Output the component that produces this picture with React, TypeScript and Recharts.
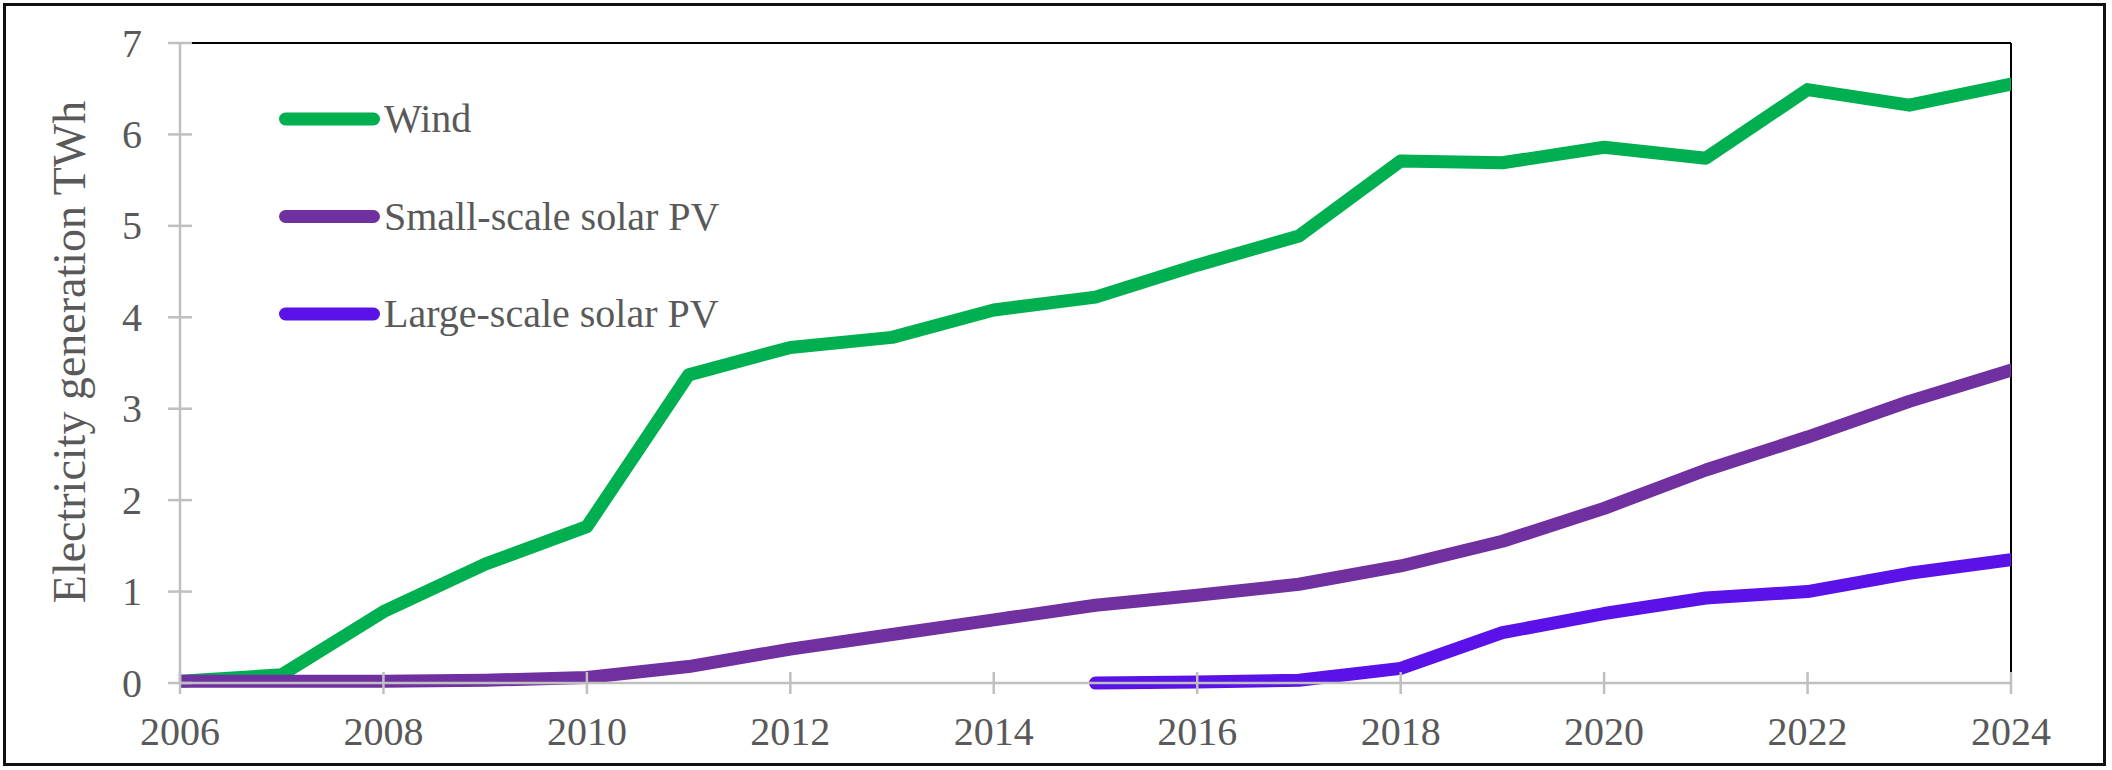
import React from 'react';
import { LineChart, Line, XAxis, YAxis, ReferenceLine, Legend, Label } from 'recharts';

// Annual electricity generation by source (TWh)
const years = [2006, 2007, 2008, 2009, 2010, 2011, 2012, 2013, 2014, 2015, 2016, 2017, 2018, 2019, 2020, 2021, 2022, 2023, 2024];
const wind = [0.02, 0.09, 0.78, 1.3, 1.71, 3.37, 3.67, 3.78, 4.08, 4.22, 4.57, 4.89, 5.71, 5.69, 5.86, 5.74, 6.49, 6.32, 6.55];
const smallSolar = [0.02, 0.02, 0.02, 0.03, 0.06, 0.18, 0.37, 0.53, 0.69, 0.85, 0.96, 1.08, 1.28, 1.55, 1.91, 2.33, 2.69, 3.08, 3.42];
const largeSolar: (number | null)[] = [null, null, null, null, null, null, null, null, null, 0, 0.01, 0.03, 0.16, 0.55, 0.76, 0.93, 1.0, 1.2, 1.35];

const xTicks = [2006, 2008, 2010, 2012, 2014, 2016, 2018, 2020, 2022, 2024];
const yTicks = [0, 1, 2, 3, 4, 5, 6, 7];

const seriesKeys = ['wind', 'small', 'large'] as const;
const seriesNames: Record<string, string> = { wind: 'Wind', small: 'Small-scale solar PV', large: 'Large-scale solar PV' };
const seriesColors: Record<string, string> = { wind: '#00B050', small: '#7030A0', large: '#5A12E8' };

const rows = years.map((year, i) => ({
  year,
  wind: wind[i],
  small: smallSolar[i],
  large: largeSolar[i],
}));

const FONT = '"Liberation Serif", "Times New Roman", serif';
const TEXT = '#595959';
const AXIS = '#BFBFBF';

const YTick = (props: any) => {
  const { x, y, payload } = props;
  return (
    <g>
      <line x1={x - 12} x2={x + 12} y1={y} y2={y} stroke={AXIS} strokeWidth={2.5} />
      <text x={x - 38} y={y} textAnchor="end" dominantBaseline="central" fontFamily={FONT} fontSize={40} fill={TEXT}>
        {payload.value}
      </text>
    </g>
  );
};

const XTick = (props: any) => {
  const { x, y, payload } = props;
  return (
    <g>
      <line x1={x} x2={x} y1={y - 11} y2={y + 11} stroke={AXIS} strokeWidth={2.5} />
      <text x={x} y={y + 62} textAnchor="middle" fontFamily={FONT} fontSize={40} fill={TEXT}>
        {payload.value}
      </text>
    </g>
  );
};

// Legend drawn in series order: Wind, Small-scale, Large-scale
const LegendContent = () => (
  <svg width={560} height={260} style={{ display: 'block', overflow: 'visible' }}>
    {seriesKeys.map((key, i) => {
      const cy = 29 + i * 97.5;
      return (
        <g key={key}>
          <line x1={11.5} x2={99.5} y1={cy} y2={cy} stroke={seriesColors[key]} strokeWidth={13} strokeLinecap="round" />
          <text x={110} y={cy + 13} fontFamily={FONT} fontSize={40} fill={TEXT}>
            {seriesNames[key]}
          </text>
        </g>
      );
    })}
  </svg>
);

export default function App() {
  return (
    <div style={{ position: 'relative', width: 2112, height: 770, background: '#fff' }}>
      <style>{'body{margin:0;}'}</style>
      <div
        style={{
          position: 'absolute',
          left: 3,
          top: 3,
          width: 2103,
          height: 763,
          border: '3px solid #111',
          boxSizing: 'border-box',
        }}
      />
      <div style={{ position: 'absolute', left: 0, top: 0 }}>
        <LineChart width={2112} height={770} data={rows} margin={{ top: 43, right: 101, left: 120, bottom: 57 }}>
          <ReferenceLine y={7} stroke="#000" strokeWidth={2} />
          <ReferenceLine x={2024} stroke="#000" strokeWidth={2} />
          <XAxis
            dataKey="year"
            type="number"
            domain={[2006, 2024]}
            ticks={xTicks}
            interval={0}
            allowDataOverflow
            height={30}
            tickSize={0}
            tickMargin={0}
            tickLine={false}
            axisLine={{ stroke: AXIS, strokeWidth: 2.5 }}
            tick={<XTick />}
          />
          <YAxis
            type="number"
            domain={[0, 7]}
            ticks={yTicks}
            interval={0}
            width={60}
            tickSize={0}
            tickMargin={0}
            tickLine={false}
            axisLine={{ stroke: AXIS, strokeWidth: 2.5 }}
            tick={<YTick />}
          >
            <Label
              content={() => (
                <text
                  x={85}
                  y={352}
                  transform="rotate(-90, 85, 352)"
                  textAnchor="middle"
                  fontFamily={FONT}
                  fontSize={46}
                  fill={TEXT}
                >
                  Electricity generation TWh
                </text>
              )}
            />
          </YAxis>
          <Legend
            layout="vertical"
            align="center"
            verticalAlign="middle"
            wrapperStyle={{ left: 274, top: 90, width: 560 }}
            content={<LegendContent />}
          />
          {seriesKeys.map((key) => (
            <Line
              key={key}
              dataKey={key}
              name={seriesNames[key]}
              stroke={seriesColors[key]}
              strokeWidth={13}
              strokeLinecap="round"
              strokeLinejoin="round"
              dot={false}
              activeDot={false}
              isAnimationActive={false}
            />
          ))}
        </LineChart>
      </div>
    </div>
  );
}
